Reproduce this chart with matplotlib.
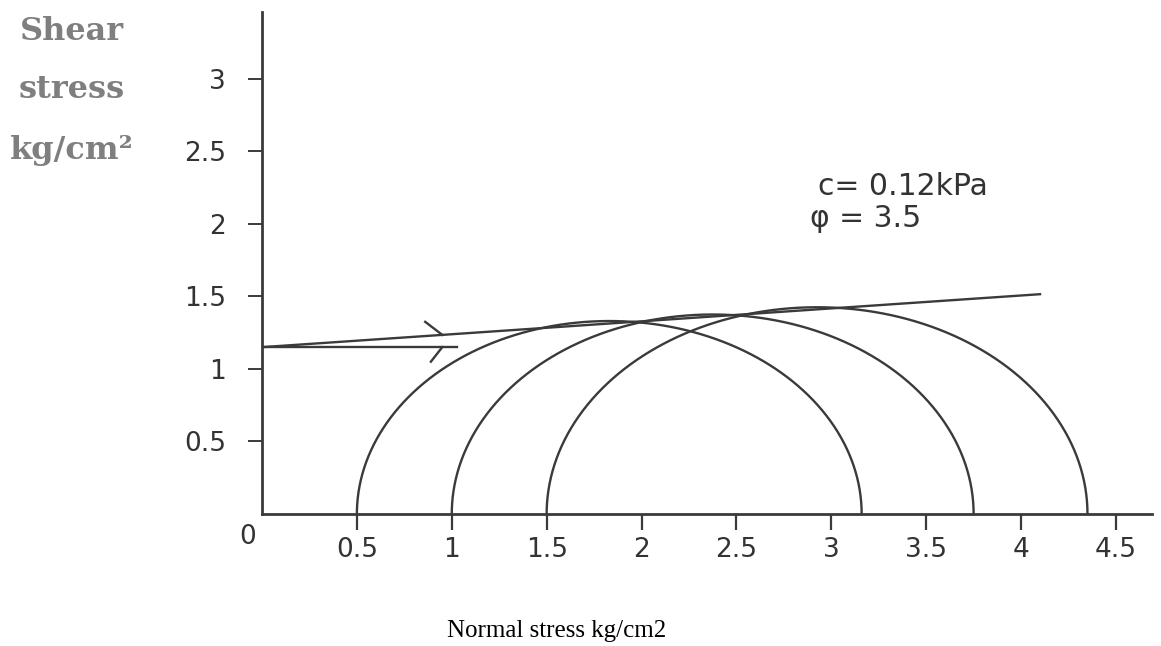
import numpy as np
import matplotlib
matplotlib.use("Agg")
import matplotlib.pyplot as plt

# ---- data ----
circle_sigma3 = [0.5, 1.0, 1.5]          # minor principal stress (kg/cm2)
circle_sigma1 = [3.16, 3.75, 4.35]       # major principal stress (kg/cm2)
envelope_sigma = [0.0, 4.1]              # failure envelope end points (x)
envelope_tau = [1.15, 1.515]             # failure envelope end points (y)
cohesion_sigma = [0.0, 1.03]             # horizontal cohesion line
cohesion_tau = [1.15, 1.15]
arrow_sigma = [0.95, 0.95]
x_ticks = [0.5, 1, 1.5, 2, 2.5, 3, 3.5, 4, 4.5]
x_tick_labels = ["0.5", "1", "1.5", "2", "2.5", "3", "3.5", "4", "4.5"]
y_ticks = [0.5, 1, 1.5, 2, 2.5, 3]
y_tick_labels = ["0.5", "1", "1.5", "2", "2.5", "3"]
annot_lines = ["c= 0.12kPa", "\u03c6 = 3.5"]

LC = "#3a3a3a"
TC = "#333333"

fig = plt.figure(figsize=(11.61, 6.46), dpi=100)
ax = fig.add_axes([262/1161, 1-514/646, (1152-262)/1161, (514-12)/646])
ax.set_xlim(0, 4.69)
ax.set_ylim(0, 3.46)

# Mohr circles
for s3, s1 in zip(circle_sigma3, circle_sigma1):
    c = (s1 + s3) / 2
    r = (s1 - s3) / 2
    th = np.linspace(0, np.pi, 300)
    ax.plot(c + r*np.cos(th), r*np.sin(th), color=LC, lw=1.7, solid_capstyle="butt")

# envelope and cohesion line
ax.plot(envelope_sigma, envelope_tau, color=LC, lw=1.7)
ax.plot(cohesion_sigma, cohesion_tau, color=LC, lw=1.7)

# half arrow barbs
slope = (envelope_tau[1]-envelope_tau[0])/(envelope_sigma[1]-envelope_sigma[0])
a0 = arrow_sigma[0]
y0 = envelope_tau[0] + slope*a0
ax.plot([a0-0.09, a0], [y0+0.09, y0], color=LC, lw=1.7)
a1 = arrow_sigma[1]
y1 = cohesion_tau[0]
ax.plot([a1-0.06, a1], [y1-0.1, y1], color=LC, lw=1.7)

# spines
for s in ["top", "right"]:
    ax.spines[s].set_visible(False)
for s in ["left", "bottom"]:
    ax.spines[s].set_linewidth(2.0)
    ax.spines[s].set_color(LC)

ax.set_xticks(x_ticks)
ax.set_xticklabels(x_tick_labels)
ax.set_yticks(y_ticks)
ax.set_yticklabels(y_tick_labels)
ax.tick_params(axis="x", direction="out", length=11.5, width=1.6, color=LC,
               pad=5, labelsize=19, labelcolor=TC)
ax.tick_params(axis="y", direction="out", length=10, width=1.4, color=LC,
               pad=16, labelsize=19, labelcolor=TC)
for lab in ax.get_xticklabels() + ax.get_yticklabels():
    lab.set_fontfamily("DejaVu Sans")

ax.text(-0.074, -0.16, "0", ha="center", va="center", fontsize=19,
        color=TC, family="DejaVu Sans", clip_on=False)

# annotation
ax.text(2.93, 2.2, annot_lines[0], ha="left", va="baseline", fontsize=21.5,
        color=TC, family="DejaVu Sans")
ax.text(2.89, 1.98, annot_lines[1], ha="left", va="baseline", fontsize=21.5,
        color=TC, family="DejaVu Sans")

# axis titles
ylab = ["Shear", "stress", "kg/cm\u00b2"]
ypos = [31, 90, 150]
for t, yp in zip(ylab, ypos):
    fig.text(72/1161, 1-yp/646, t, ha="center", va="center", fontsize=23,
             fontweight="bold", color="#7f7f7f", family="DejaVu Serif")

fig.text(557/1161, 1-631/646, "Normal stress kg/cm2", ha="center", va="center",
         fontsize=18, color="black", family="Liberation Serif")

fig.savefig("out.png", dpi=100)
